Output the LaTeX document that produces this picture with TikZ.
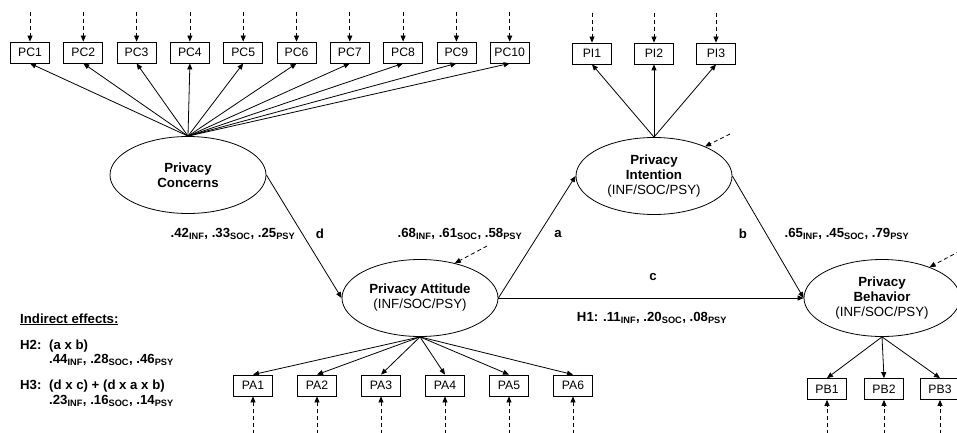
\documentclass[tikz,border=0pt]{standalone}
\usepackage{fontspec}
\setmainfont{Liberation Sans}
\usetikzlibrary{shapes.geometric,arrows.meta}

\newcommand{\effs}[3]{\textbf{.#1\textsubscript{INF}, .#2\textsubscript{SOC}, .#3\textsubscript{PSY}}}

\tikzset{
	box/.style={draw, line width=0.8pt, minimum width=39pt, minimum height=21pt, inner sep=0pt, font=\fontsize{12.2}{14}\selectfont},
	latent/.style={draw, ellipse, line width=0.8pt, minimum width=156pt, minimum height=77pt, inner sep=0pt, align=center, font=\fontsize{13.3}{15}\selectfont},
	arr/.style={line width=0.8pt, -{Triangle[length=6pt,width=5pt]}},
	err/.style={arr, dash pattern=on 4pt off 3pt},
	lbl/.style={font=\fontsize{13.2}{15}\selectfont\bfseries, inner sep=0pt}
}

\begin{document}
\begin{tikzpicture}[x=1pt,y=-1pt]
	\useasboundingbox (0,0) rectangle (957,433);

	% latent variables
	\node[latent] (conc) at (188,175) {\textbf{Privacy}\\\textbf{Concerns}};
	\node[latent] (att) at (420,298) {\textbf{Privacy Attitude}\\(INF/SOC/PSY)};
	\node[latent] (int) at (654,176) {\textbf{Privacy}\\\textbf{Intention}\\(INF/SOC/PSY)};
	\node[latent] (beh) at (882,298) {\textbf{Privacy}\\\textbf{Behavior}\\(INF/SOC/PSY)};

	% indicators
	\foreach \i in {1,...,10} {
		\node[box] (pc\i) at ({30+53.3*(\i-1)},52.5) {PC\i};
		\path (pc\i.north) ++(0,-30) coordinate (pce\i);
		\draw[err] (pce\i) -- (pc\i.north);
		\draw[arr] (conc.north) -- (pc\i.south);
	}
	\foreach \i/\x in {1/592,2/654,3/716} {
		\node[box] (pi\i) at (\x,53.5) {PI\i};
		\path (pi\i.north) ++(0,-30) coordinate (pie\i);
		\draw[err] (pie\i) -- (pi\i.north);
		\draw[arr] (int.north) -- (pi\i.south);
	}
	\foreach \i in {1,...,6} {
		\node[box] (pa\i) at ({253+64*(\i-1)},385.5) {PA\i};
		\path (pa\i.south) ++(0,38) coordinate (pae\i);
		\draw[err] (pae\i) -- (pa\i.south);
		\draw[arr] (att.south) -- (pa\i.north);
	}
	\foreach \i/\x in {1/827,2/884,3/940} {
		\node[box] (pb\i) at (\x,389) {PB\i};
		\path (pb\i.south) ++(0,34) coordinate (pbe\i);
		\draw[err] (pbe\i) -- (pb\i.south);
		\draw[arr] (beh.south) -- (pb\i.north);
	}

	% disturbances
	\coordinate (atte) at (487,246);
	\coordinate (inte) at (730,134);
	\coordinate (behe) at (960,251);
	\draw[err] (atte) -- (att.45);
	\draw[err] (inte) -- (int.30);
	\draw[err] (behe) -- (beh.33);

	% structural paths
	\draw[arr] (conc.east) -- (att.west);
	\draw[arr] (att.east) -- (int.west);
	\draw[arr] (int.east) -- (beh.west);
	\draw[arr] (att.east) -- (beh.west);

	\node[lbl] (dval) at (233,234) {\effs{42}{33}{25}};
	\node[lbl] (dlab) at (320,234) {d};
	\node[lbl] (aval) at (460,234) {\effs{68}{61}{58}};
	\node[lbl] (alab) at (558,234) {a};
	\node[lbl] (blab) at (743,234) {b};
	\node[lbl] (bval) at (847,234) {\effs{65}{45}{79}};
	\node[lbl] (clab) at (653,277) {c};
	\node[lbl] (cval) at (652,318) {H1: \effs{11}{20}{08}};

	% indirect effects
	\node[lbl, anchor=base west] (ind) at (20,323) {\underline{Indirect effects:}};
	\node[lbl, anchor=base west] (h2) at (20,349) {H2:};
	\node[lbl, anchor=base west] (h2a) at (49,349) {(a x b)};
	\node[lbl, anchor=base west] (h2b) at (49,363) {\effs{44}{28}{46}};
	\node[lbl, anchor=base west] (h3) at (20,389) {H3:};
	\node[lbl, anchor=base west] (h3a) at (49,389) {(d x c) + (d x a x b)};
	\node[lbl, anchor=base west] (h3b) at (49,404) {\effs{23}{16}{14}};
\end{tikzpicture}
\end{document}
